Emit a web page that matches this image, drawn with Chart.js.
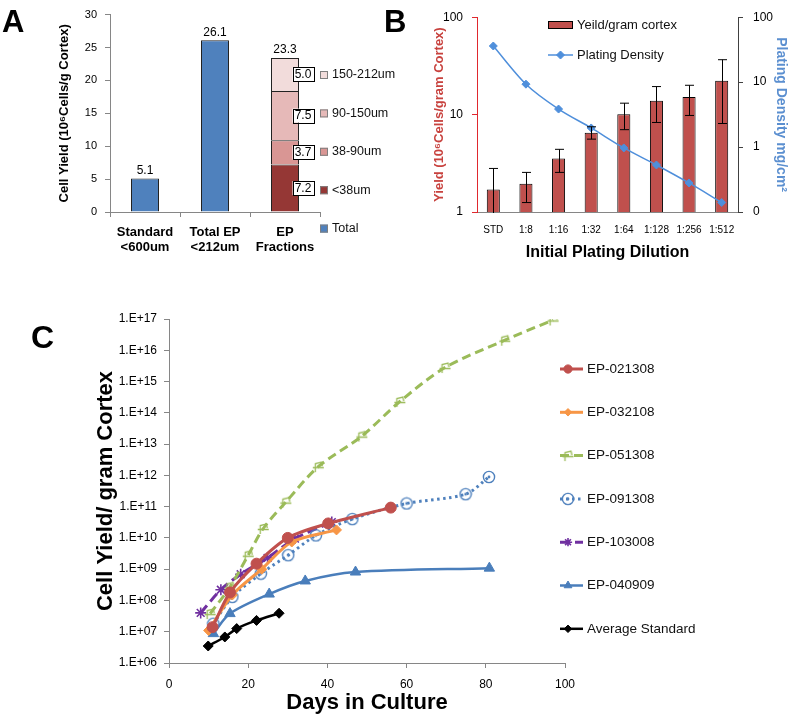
<!DOCTYPE html>
<html>
<head>
<meta charset="utf-8">
<script src="https://cdn.jsdelivr.net/npm/chart.js@4.4.1/dist/chart.umd.min.js"></script>
<style>
  body { margin: 0; background: #fff; width: 795px; height: 722px; position: relative; overflow: hidden;
         font-family: "Liberation Sans", Arial, sans-serif; }
  canvas { position: absolute; }
  .tag { position: absolute; font-weight: bold; line-height: 1; color: #000; }
</style>
</head>
<body>
<canvas id="cA" width="400" height="262" style="left:0;top:0"></canvas>
<canvas id="cB" width="395" height="262" style="left:400px;top:0"></canvas>
<canvas id="cC" width="795" height="452" style="left:0;top:270px"></canvas>
<div class="tag" style="left:2px;top:6px;font-size:31px">A</div>
<div class="tag" style="left:384px;top:6px;font-size:31px">B</div>
<div class="tag" style="left:31px;top:321px;font-size:32px">C</div>
<script>
// ---- panel A : cell yield by fraction (10^6 cells / g cortex)
const catsA = [['Standard', '<600um'], ['Total EP', '<212um'], ['EP', 'Fractions']];
const totalA = [5.1, 26.1, null];
const under38 = [null, null, 7.2];
const from38to90 = [null, null, 3.7];
const from90to150 = [null, null, 7.5];
const from150to212 = [null, null, 5.0];
const topLabelsA = [5.1, 26.1, 23.3];

// ---- panel B : yield vs initial plating dilution
const dilutions = ['STD', '1:8', '1:16', '1:32', '1:64', '1:128', '1:256', '1:512'];
const yieldB = [1.7, 1.95, 3.55, 6.5, 10.1, 13.9, 15.2, 22.2];
const yieldLow = [0.6, 1.25, 2.55, 5.6, 7.0, 8.3, 9.8, 8.1];
const yieldHigh = [2.8, 2.55, 4.4, 7.5, 13.1, 19.4, 20.0, 36.6];
const densityB = [36, 9.3, 3.85, 1.97, 0.97, 0.53, 0.28, 0.14];
const ticksBLeft = [1, 10, 100];
const ticksBRight = [0.1, 1, 10, 100];

// ---- panel C : expansion in culture
const days021308 = [11, 15.4, 22.1, 30, 40.2, 56];
const cells021308 = [1.4e7, 1.8e8, 1.5e9, 1.0e10, 2.9e10, 9.3e10];
const days032108 = [10, 16, 23.4, 31, 42.3];
const cells032108 = [1.1e7, 1.5e8, 1.0e9, 7.4e9, 1.8e10];
const days051308 = [10.4, 15.4, 20, 23.8, 29.5, 37.7, 48.7, 58.3, 69.7, 84.8, 97];
const cells051308 = [3.8e7, 2.7e8, 2.8e9, 2.0e10, 1.4e11, 1.9e12, 1.8e13, 2.3e14, 2.8e15, 2.1e16, 9.3e16];
const days091308 = [11.2, 16, 23.2, 30.1, 37.1, 46.3, 60, 74.9, 80.8];
const cells091308 = [1.8e7, 1.3e8, 7.2e8, 2.8e9, 1.2e10, 4.0e10, 1.26e11, 2.5e11, 8.9e11];
const days103008 = [8, 13.1, 18.1, 24.9, 31.8, 41.1];
const cells103008 = [4.0e7, 2.2e8, 6.9e8, 2.3e9, 9.5e9, 3.2e10];
const days040909 = [11.2, 15.4, 25.3, 34.4, 47.1, 80.9];
const cells040909 = [8.7e6, 3.8e7, 1.6e8, 4.2e8, 8.1e8, 1.08e9];
const daysStandard = [9.9, 14.1, 17.1, 22.1, 27.8];
const cellsStandard = [3.5e6, 6.8e6, 1.26e7, 2.3e7, 3.9e7];
const ticksC = [1e6, 1e7, 1e8, 1e9, 1e10, 1e11, 1e12, 1e13, 1e14, 1e15, 1e16, 1e17];

const FONT = "'Liberation Sans', Arial, sans-serif";
const NARROW = "'Liberation Sans Narrow', 'Liberation Sans', Arial, sans-serif";
Chart.defaults.font.family = FONT;
Chart.defaults.color = '#000';
const H = Chart.helpers;

// legend drawn beside / inside the plot
const sideLegend = {
  id: 'sideLegend',
  afterDraw(chart, args, o) {
    const ctx = chart.ctx;
    const sets = chart.data.datasets.slice();
    if (o.reverse) sets.reverse();
    ctx.save();
    ctx.font = o.font;
    ctx.textBaseline = 'middle';
    ctx.textAlign = 'left';
    sets.forEach((d, k) => {
      const y = o.y + k * o.gap;
      const isLine = d.type === 'line' || chart.config.type === 'line';
      if (isLine) {
        ctx.save();
        ctx.strokeStyle = d.borderColor;
        ctx.lineWidth = d.borderWidth;
        ctx.setLineDash(d.borderDash || []);
        ctx.beginPath();
        ctx.moveTo(o.x, y);
        ctx.lineTo(o.x + o.swatchW, y);
        ctx.stroke();
        ctx.setLineDash([]);
        ctx.fillStyle = d.pointBackgroundColor;
        ctx.strokeStyle = d.pointBorderColor;
        ctx.lineWidth = d.pointBorderWidth;
        H.drawPoint(ctx, { pointStyle: d.pointStyle, radius: d.pointRadius * o.pointScale, rotation: 0,
                           borderWidth: d.pointBorderWidth }, o.x + o.markX, y);
        ctx.restore();
      } else {
        ctx.fillStyle = d.backgroundColor;
        ctx.fillRect(o.x, y - o.boxH / 2, o.swatchW, o.boxH);
        ctx.strokeStyle = o.boxBorder;
        ctx.lineWidth = 1;
        ctx.strokeRect(o.x + 0.5, y - o.boxH / 2 + 0.5, o.swatchW - 1, o.boxH - 1);
      }
      ctx.fillStyle = '#111';
      ctx.fillText(d.label, o.x + o.textX, y);
    });
    ctx.restore();
  }
};

// totals over the columns + boxed values of the fractions
const valueLabels = {
  id: 'valueLabels',
  afterDatasetsDraw(chart, args, o) {
    const ctx = chart.ctx, y = chart.scales.y, sets = chart.data.datasets;
    ctx.save();
    ctx.font = o.font;
    ctx.textAlign = 'center';
    ctx.fillStyle = '#000';
    chart.data.labels.forEach((_, i) => {
      let sum = 0, x = null;
      sets.forEach((d, k) => {
        if (d.data[i] != null) { sum += d.data[i]; x = chart.getDatasetMeta(k).data[i].x; }
      });
      ctx.textBaseline = 'bottom';
      ctx.fillText(o.tops[i].toFixed(1), x, y.getPixelForValue(sum) - 2);
    });
    ctx.textBaseline = 'middle';
    sets.forEach((d, k) => {
      if (k < o.boxFrom) return;
      chart.getDatasetMeta(k).data.forEach((el, i) => {
        if (d.data[i] == null) return;
        const cx = el.x + el.width / 2 + 4, cy = (el.y + el.base) / 2;
        ctx.fillStyle = '#fff';
        ctx.fillRect(cx - 10.5, cy - 7, 21, 14);
        ctx.strokeStyle = '#000';
        ctx.lineWidth = 1;
        ctx.strokeRect(Math.round(cx - 10.5) + 0.5, Math.round(cy - 7) + 0.5, 21, 14);
        ctx.fillStyle = '#000';
        ctx.fillText(d.data[i].toFixed(1), cx, cy + 0.5);
      });
    });
    ctx.restore();
  }
};

// error whiskers for panel B
const errorBars = {
  id: 'errorBars',
  afterDatasetsDraw(chart, args, o) {
    const ctx = chart.ctx, y = chart.scales.y, ca = chart.chartArea;
    ctx.save();
    ctx.beginPath();
    ctx.rect(ca.left, ca.top, ca.right - ca.left, ca.bottom - ca.top + 1);
    ctx.clip();
    ctx.strokeStyle = '#000';
    ctx.lineWidth = 1;
    chart.getDatasetMeta(0).data.forEach((bar, i) => {
      const x = Math.round(bar.x) + 0.5;
      const lo = y.getPixelForValue(o.low[i]), hi = y.getPixelForValue(o.high[i]);
      ctx.beginPath();
      ctx.moveTo(x, lo); ctx.lineTo(x, hi);
      ctx.moveTo(x - 4.5, hi); ctx.lineTo(x + 4.5, hi);
      ctx.moveTo(x - 4.5, lo); ctx.lineTo(x + 4.5, lo);
      ctx.stroke();
    });
    ctx.restore();
  }
};

const axisGray = '#868686';
const base = { responsive: false, animation: false, devicePixelRatio: 1, events: [] };

// ================= A =================
new Chart(document.getElementById('cA'), {
  type: 'bar',
  data: {
    labels: catsA,
    datasets: [
      { label: 'Total', data: totalA, backgroundColor: '#4F81BD' },
      { label: '<38um', data: under38, backgroundColor: '#953735' },
      { label: '38-90um', data: from38to90, backgroundColor: '#D99694' },
      { label: '90-150um', data: from90to150, backgroundColor: '#E6B9B8' },
      { label: '150-212um', data: from150to212, backgroundColor: '#F2DCDB' }
    ].map(d => Object.assign(d, { borderColor: '#222', borderWidth: 1, barPercentage: 0.4, categoryPercentage: 1 }))
  },
  options: Object.assign({}, base, {
    layout: { padding: { left: 0, top: 12, right: 80, bottom: 0 } },
    plugins: {
      legend: { display: false }, tooltip: { enabled: false },
      sideLegend: { x: 320, y: 75, gap: 38.4, swatchW: 8, boxH: 8, textX: 12, boxBorder: '#7f7f7f',
                    reverse: true, font: '12.5px ' + FONT },
      valueLabels: { tops: topLabelsA, boxFrom: 1, font: '12px ' + FONT }
    },
    scales: {
      x: {
        stacked: true,
        grid: { drawOnChartArea: false, tickLength: 5, color: axisGray },
        border: { color: axisGray },
        ticks: { font: { size: 13, weight: 'bold', lineHeight: 1.15 }, padding: 8, maxRotation: 0 },
        afterFit: s => { s.height = 50; }
      },
      y: {
        stacked: true, min: 0, max: 30,
        ticks: { stepSize: 5, padding: 8, font: { size: 11 } },
        grid: { drawOnChartArea: false, tickLength: 5, color: axisGray },
        border: { color: axisGray },
        title: { display: true, text: 'Cell Yield (10⁶Cells/g Cortex)', font: { size: 13, weight: 'bold' },
                 padding: { top: 57, bottom: 0 } },
        afterFit: s => { s.width = 110; }
      }
    }
  }),
  plugins: [sideLegend, valueLabels]
});

// ================= B =================
new Chart(document.getElementById('cB'), {
  type: 'bar',
  data: {
    labels: dilutions,
    datasets: [
      { label: 'Yeild/gram cortex', data: yieldB, backgroundColor: '#C0504D', borderColor: '#000', borderWidth: 1,
        barPercentage: 0.4, categoryPercentage: 1, yAxisID: 'y', order: 1 },
      { type: 'line', label: 'Plating Density', data: densityB, yAxisID: 'y1', order: 0,
        borderColor: '#4F8FDB', borderWidth: 1.5, tension: 0.3, pointStyle: 'rectRot', pointRadius: 4,
        pointBackgroundColor: '#4F8FDB', pointBorderColor: '#4F8FDB', pointBorderWidth: 1 }
    ]
  },
  options: Object.assign({}, base, {
    layout: { padding: { left: 0, top: 9, right: 0, bottom: 0 } },
    plugins: {
      legend: { display: false }, tooltip: { enabled: false },
      sideLegend: { x: 148, y: 25, gap: 30, swatchW: 25, boxH: 8, textX: 29, markX: 12.5, pointScale: 1,
                    boxBorder: '#000', font: '13px ' + FONT },
      errorBars: { low: yieldLow, high: yieldHigh }
    },
    scales: {
      x: {
        grid: { drawOnChartArea: false, drawTicks: false, color: axisGray },
        border: { color: axisGray },
        ticks: { font: { size: 10 }, padding: 12, maxRotation: 0 },
        title: { display: true, text: 'Initial Plating Dilution', font: { size: 16, weight: 'bold' },
                 padding: { top: 0, bottom: 0 } },
        afterFit: s => { s.height = 50; }
      },
      y: {
        type: 'logarithmic', position: 'left', min: 1, max: 100,
        afterBuildTicks: s => { s.ticks = ticksBLeft.map(v => ({ value: v })); },
        ticks: { callback: v => String(v), font: { size: 12 }, padding: 9 },
        grid: { drawOnChartArea: false, tickLength: 5, color: '#E0282E' },
        border: { color: '#E0282E' },
        title: { display: true, text: 'Yield (10⁶Cells/gram Cortex)', color: '#C8423E',
                 font: { size: 13, weight: 'bold' }, padding: { top: 32, bottom: 0 } },
        afterFit: s => { s.width = 77; }
      },
      y1: {
        type: 'logarithmic', position: 'right', min: 0.1, max: 100,
        afterBuildTicks: s => { s.ticks = ticksBRight.map(v => ({ value: v })); },
        ticks: { callback: v => (v < 1 ? '0' : String(v)), font: { size: 12 }, padding: 10 },
        grid: { drawOnChartArea: false, tickLength: 5, color: '#404040' },
        border: { color: '#404040' },
        title: { display: true, text: 'Plating Density mg/cm²', color: '#5B8FD0',
                 font: { size: 14, weight: 'bold' }, padding: { top: 6, bottom: 0 } },
        afterFit: s => { s.width = 57; }
      }
    }
  }),
  plugins: [sideLegend, errorBars]
});

// ================= C =================
function ringDot(color) {
  const c = document.createElement('canvas');
  c.width = 14; c.height = 14;
  const g = c.getContext('2d');
  g.strokeStyle = color; g.lineWidth = 1.4;
  g.beginPath(); g.arc(7, 7, 5.6, 0, Math.PI * 2); g.stroke();
  g.fillStyle = color;
  g.beginPath(); g.arc(7, 7, 1.4, 0, Math.PI * 2); g.fill();
  return c;
}
function flagMark(color) {
  const c = document.createElement('canvas');
  c.width = 13; c.height = 13;
  const g = c.getContext('2d');
  g.strokeStyle = color; g.lineWidth = 1.3;
  g.beginPath();
  g.moveTo(3.5, 12); g.lineTo(3.5, 3.5); g.lineTo(9.5, 2); g.lineTo(10.5, 6);
  g.moveTo(1, 7.5); g.lineTo(12, 7.5);
  g.stroke();
  return c;
}
const pts = (xs, ys) => xs.map((x, i) => ({ x, y: ys[i] }));
const lineStyle = (color, width, pointStyle, radius, extra) => Object.assign({
  borderColor: color, borderWidth: width, pointStyle, pointRadius: radius,
  pointBackgroundColor: color, pointBorderColor: color, pointBorderWidth: 1, tension: 0.3, fill: false
}, extra || {});

new Chart(document.getElementById('cC'), {
  type: 'line',
  data: {
    datasets: [
      Object.assign({ label: 'EP-021308', data: pts(days021308, cells021308) },
        lineStyle('#C0504D', 3, 'circle', 5.5)),
      Object.assign({ label: 'EP-032108', data: pts(days032108, cells032108) },
        lineStyle('#F79646', 3, 'rectRot', 5)),
      Object.assign({ label: 'EP-051308', data: pts(days051308, cells051308) },
        lineStyle('#9BBB59', 3, flagMark('#9BBB59'), 5, { borderDash: [9, 5] })),
      Object.assign({ label: 'EP-091308', data: pts(days091308, cells091308) },
        lineStyle('#4F81BD', 3, ringDot('#4F81BD'), 6, { borderDash: [2.5, 3.5] })),
      Object.assign({ label: 'EP-103008', data: pts(days103008, cells103008) },
        lineStyle('#7030A0', 3, 'star', 5.5, { borderDash: [10, 5], pointBorderWidth: 1.6 })),
      Object.assign({ label: 'EP-040909', data: pts(days040909, cells040909) },
        lineStyle('#4A7EBB', 2.5, 'triangle', 6)),
      Object.assign({ label: 'Average Standard', data: pts(daysStandard, cellsStandard) },
        lineStyle('#000', 2.5, 'rectRot', 5))
    ]
  },
  options: Object.assign({}, base, {
    layout: { padding: { left: 0, top: 49, right: 230, bottom: 0 } },
    plugins: {
      legend: { display: false }, tooltip: { enabled: false },
      sideLegend: { x: 560, y: 99, gap: 43.3, swatchW: 23, textX: 27, markX: 8, pointScale: 0.75,
                    font: '13.5px ' + FONT }
    },
    scales: {
      x: {
        type: 'linear', min: 0, max: 100,
        ticks: { stepSize: 20, font: { size: 12, family: NARROW }, padding: 9 },
        grid: { drawOnChartArea: false, tickLength: 5, color: axisGray },
        border: { color: axisGray },
        title: { display: true, text: 'Days in Culture', font: { size: 22, weight: 'bold' },
                 padding: { top: 0, bottom: 6 } },
        afterFit: s => { s.height = 59; }
      },
      y: {
        type: 'logarithmic', min: 1e6, max: 1e17,
        afterBuildTicks: s => { s.ticks = ticksC.map(v => ({ value: v })); },
        ticks: {
          callback: v => '1.E+' + String(Math.round(Math.log10(v))).padStart(2, '0'),
          font: { size: 12, family: NARROW }, padding: 7
        },
        grid: { drawOnChartArea: false, tickLength: 5, color: axisGray },
        border: { color: axisGray },
        title: { display: true, text: 'Cell Yield/ gram Cortex', font: { size: 22, weight: 'bold' },
                 padding: { top: 93, bottom: 0 } },
        afterFit: s => { s.width = 169; }
      }
    }
  }),
  plugins: [sideLegend]
});
</script>
</body>
</html>
